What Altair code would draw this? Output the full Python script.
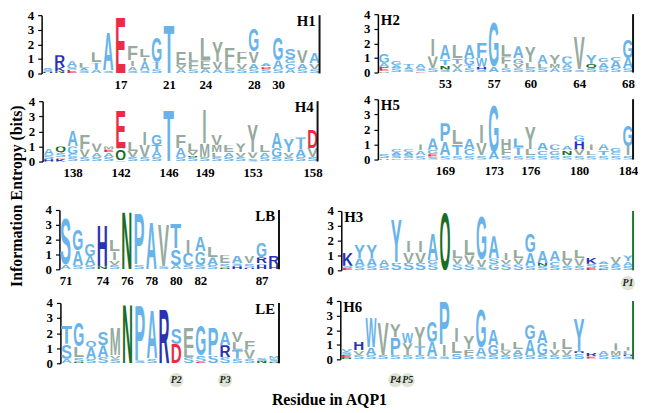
import base64
import altair as alt
import pandas as pd

# ---------------- data ----------------
# each column string lists the stacked letters bottom -> top as <letter><bits>[colour override]
H1_first = 11
H1_cols = ["H0.1 S0.15 A0.15", "N0.15 K0.3 R0.8", "E0.25 S0.2 A0.45", "S0.2 A0.2 L0.4",
           "A0.25 T0.5 L0.7", "S0.2 A2.7", "E4.0", "S0.2 A0.3 I0.4 F1.0", "S0.2 A0.6 I0.3 L0.6",
           "S0.3 T0.5 G1.7", "T3.4", "A0.3 V0.3 E0.9g", "S0.3 F0.5 L0.7", "A0.3 E0.6g L1.6",
           "A0.3 V0.5 Y1.5", "S0.3 L0.5 F1.0", "S0.3 V0.4 F0.8", "S0.3 A0.4 V0.8 G1.6",
           "S0.3 E0.1 N0.1 A0.2", "S0.3 A0.6 G1.6", "A0.3 C0.4 G0.3 S0.7", "S0.3 A0.4 V0.9",
           "S0.3 V0.4 A0.7"]
H1_ticks = [17, 21, 24, 28, 30]

H2_first = 48
H2_cols = ["N0.12 E0.25 A0.3 G0.6", "S0.3 A0.2 G0.3", "S0.2 A0.2 T0.2", "E0.1 S0.2 A0.3",
           "S0.3 V0.8 I1.2", "S0.2 N0.3 T0.4 A1.0", "A0.3 V0.3 T0.4 L0.9", "S0.3 T0.2 G0.5 A0.9",
           "S0.2 H0.2 W0.6 F1.1b", "A0.4 G3.1", "S0.3 I0.3 F0.5 L0.8", "S0.3 V0.3 G0.4 A0.8",
           "S0.3 L0.4 Y1.1", "S0.3 L0.3 A0.6", "A0.3 M0.3 Y0.6", "S0.3 A0.3 C0.5", "S0.2 V2.3",
           "S0.3 Q0.3 Y0.6b", "S0.3 A0.4 G0.3", "S0.3 A0.5 C0.3", "S0.3 A0.7 G1.3"]
H2_ticks = [53, 57, 60, 64, 68]

H4_first = 136
H4_cols = ["H0.15 S0.3 A0.4", "K0.2 E0.1 S0.3 Q0.4", "S0.3 C0.2 G0.5 A1.1", "S0.3 V0.5 F1.0",
           "S0.3 A0.3 V0.6", "S0.3 A0.3 E0.2 M0.2", "S0.1 Q0.7 A0.1 E2.6", "S0.3 V0.4 L0.6",
           "S0.3 V0.8 I0.9", "S0.3 A0.4 T0.4 G0.7", "T3.5", "S0.3 A0.6 F0.9", "S0.3 N0.1 V0.3 L0.5",
           "S0.3 M0.9 I2.3", "S0.3 L0.3 M0.5 V0.7", "S0.3 A0.3 E0.5g", "S0.3 V0.3 Y0.6",
           "S0.2 V0.4 Y1.9", "S0.3 A0.3 L0.5", "S0.3 G0.6 A1.1", "S0.3 V0.3 Y0.9b",
           "S0.3 A0.5 T0.8", "S0.3 V0.6 D1.2"]
H4_ticks = [138, 142, 146, 149, 153, 158]

H5_first = 164
H5_cols = ["H0.1 S0.3", "E0.1 S0.2 A0.2 C0.2", "E0.1 S0.2 A0.2 C0.2", "S0.3 A0.3 I0.4",
           "S0.2 E0.15 G0.3 A0.75", "S0.3 A0.9 P1.2", "S0.3 T0.7 L1.0", "S0.3 C0.4 A0.7",
           "S0.3 V0.8 I1.2", "A0.5 G3.2", "S0.3 F0.4 H0.7g", "S0.3 T0.5 L0.6b", "S0.3 L0.4 Y1.5",
           "S0.3 C0.3 A0.5", "S0.3 G0.3 C0.4", "S0.3 N0.3 A0.3", "S0.3 V0.4 H0.5 G0.4",
           "S0.3 L0.3 I0.4", "S0.3 T0.3 A0.4", "S0.3 C0.2 G0.3", "S0.3 I0.6 G1.4"]
H5_ticks = [169, 173, 176, 180, 184]

LB_first = 71
LB_cols = ["A0.3 S3.2", "S0.3 A1.0 G1.4", "S0.3 A0.6 G0.8", "N0.2 H2.8", "S0.3 V0.3 I0.6 L0.8",
           "N4.0", "S0.3 P3.5", "A3.3", "S0.2 V2.9", "A0.3 S1.1 T1.7", "S0.3 C0.8 I0.9",
           "S0.3 G0.9 A1.0", "S0.3 A0.5 L0.7", "N0.1 S0.3 E0.6g", "H0.2 S0.2 A0.5",
           "H0.1 S0.3 V0.5", "H0.3 S0.1 R0.4 G1.0", "H0.3 R0.6"]
LB_ticks = [71, 74, 76, 78, 80, 82, 87]

H3_first = 93
H3_cols = ["E0.15 S0.15 K0.9", "S0.3 A0.5 Y0.9b", "S0.3 A0.5 Y0.9b", "S0.3 A0.4", "S0.5 Y3.0b",
           "S0.5 V0.7 I0.8", "S0.5 V0.7 I0.8", "S0.4 G0.3 A1.8", "Q4.0", "S0.4 V0.4 L0.6",
           "S0.4 V0.6 L1.1", "S0.2 V0.5 G3.0", "G0.4 S0.4 A1.5", "S0.4 V0.3 I0.5",
           "S0.4 V0.4 L0.6", "S0.3 A0.9 G1.3", "S0.3 N0.2 A0.8", "S0.3 C0.3 A0.7",
           "S0.3 V0.4 L0.6", "S0.3 V0.5 L0.6", "E0.15 S0.3 K0.4", "E0.1 S0.3 A0.2",
           "S0.3 A0.2 V0.4", "S0.3 A0.3 Y0.4b"]
H3_ticks = [97, 101, 104, 108, 112]

LE_first = 187
LE_cols = ["A0.3 S1.0 T1.2", "N0.1 S0.3 L0.7 G1.6", "S0.3 A0.8 Q0.4b", "S0.4 A0.8 S0.9",
           "S0.3 V0.2 M1.9", "N4.0", "S0.2 P3.7", "S0.3 A3.3", "R3.7", "D1.3 S1.1",
           "S0.4 L0.6 E1.4g", "E0.1 S0.4 G2.0", "S0.5 P1.9", "S0.4 R0.8 A0.9",
           "S0.3 T0.6 L0.5 V0.7", "S0.3 V0.6 F0.6", "N0.15 S0.2", "N0.1 S0.2 M0.2b"]
LE_ticks = [188, 192, 195, 198]

H6_first = 208
H6_cols = ["N0.1 E0.2 S0.2 V0.2b", "S0.3 V0.3 H0.6", "S0.3 A0.5 W2.1", "S0.3 V2.3",
           "S0.3 P1.2 Y0.9", "S0.3 Y0.8 W0.7", "S0.3 T0.6 Y1.4", "S0.2 A1.0 G1.5",
           "S0.2 I0.8 P3.0", "S0.4 L0.8 I1.0", "S0.3 F0.4 Y0.9", "S0.2 A0.6 G2.7",
           "S0.3 G0.7 A1.1", "S0.3 V0.3 L0.5", "S0.3 A0.4 L0.5", "S0.3 A1.1 G1.0",
           "S0.3 G0.8 A0.9", "S0.3 V0.4 I0.5", "S0.3 V0.4 L0.7", "S0.4 H0.15 Y2.3b",
           "S0.05 E0.15 R0.25", "S0.3 A0.3", "S0.3 M0.3 I0.5", "S0.2 H0.1 L0.3 I0.3"]
H6_ticks = [210, 216, 219, 223, 227]

P_panel = ["H3", "LE", "LE", "H6", "H6"]
P_res = [116, 196, 200, 212, 213]
P_text = ["P1", "P2", "P3", "P4", "P5"]

Y_TITLE = "Information Entropy (bits)"
X_TITLE = "Residue in AQP1"

# ---------------- styling / layout ----------------
LETTER_CLASS = {"A": "b", "G": "b", "S": "b", "T": "b", "P": "b", "C": "b", "W": "b",
                "L": "g", "I": "g", "V": "g", "F": "g", "Y": "g", "M": "g",
                "E": "r", "D": "r", "H": "d", "R": "d", "K": "d", "N": "n", "Q": "n"}
CLASS_RGB = {"b": "rgb(104,180,234)", "g": "rgb(150,170,160)", "r": "rgb(234,44,70)",
             "d": "rgb(40,50,178)", "n": "rgb(24,110,40)"}
SERIF = "Liberation Serif"
BLACK_BAR = "#111111"
GREEN_BAR = "#1d7a2c"

OX, OY = 8, 8          # page margin
W, H = 637, 403        # whole drawing area (autosize none)

# page-pixel boxes of each panel's plotting area: left, right, top, bottom, label side, bar colour
LAYOUT = {
    "H1": (42, 324, 13, 72, "right", BLACK_BAR),
    "H2": (382, 641, 12, 71, "left", BLACK_BAR),
    "H4": (43, 322, 100, 161, "right", BLACK_BAR),
    "H5": (382, 641, 98, 159, "left", BLACK_BAR),
    "LB": (60, 283, 210, 270, "right", BLACK_BAR),
    "H3": (345, 641, 211, 271, "left", GREEN_BAR),
    "LE": (61, 283, 304, 365, "right", BLACK_BAR),
    "H6": (344, 641, 302, 361, "left", GREEN_BAR),
}
P_Y = {"H3": 284, "LE": 382, "H6": 382}

PANELS = [("H1", H1_first, H1_cols, H1_ticks), ("H2", H2_first, H2_cols, H2_ticks),
          ("H4", H4_first, H4_cols, H4_ticks), ("H5", H5_first, H5_cols, H5_ticks),
          ("LB", LB_first, LB_cols, LB_ticks), ("H3", H3_first, H3_cols, H3_ticks),
          ("LE", LE_first, LE_cols, LE_ticks), ("H6", H6_first, H6_cols, H6_ticks)]


def glyph_url(letter, cls):
    fill = CLASS_RGB[cls]
    common = (f"font-family='Liberation Sans, Arial, sans-serif' font-weight='bold' "
              f"font-size='138' fill='{fill}'")
    if letter == "I":
        txt = f"<text x='50' y='99' text-anchor='middle' {common}>I</text>"
    else:
        txt = (f"<text x='3' y='99' textLength='94' lengthAdjust='spacingAndGlyphs' "
               f"{common}>{letter}</text>")
    svg = ("<svg xmlns='http://www.w3.org/2000/svg' width='100' height='100' "
           "viewBox='0 0 100 100' preserveAspectRatio='none'>" + txt + "</svg>")
    return "data:image/svg+xml;base64," + base64.b64encode(svg.encode()).decode()


rows = []
for name, first, cols, _ in PANELS:
    for i, col in enumerate(cols):
        res = first + i
        base = 0.0
        for tok in col.split():
            letter, body = tok[0], tok[1:]
            cls = LETTER_CLASS[letter]
            if body[-1].isalpha():
                cls, body = body[-1], body[:-1]
            h = float(body)
            rows.append(dict(panel=name, res=res, x0=res - 0.48, x1=res + 0.48,
                             y0=base, y1=base + h, letter=letter, cls=cls))
            base += h
seg = pd.DataFrame(rows)
url_map = {(l, c): glyph_url(l, c) for l, c in set(zip(seg.letter, seg.cls))}
seg["url"] = [url_map[(l, c)] for l, c in zip(seg.letter, seg.cls)]
pmk = pd.DataFrame({"panel": P_panel, "x0": P_res, "lab": P_text})

layers = []
for name, first, cols, ticks in PANELS:
    L, R, T, B, side, bar = LAYOUT[name]
    n = len(cols)
    xs = alt.Scale(domain=[first - 0.5, first + n - 0.5], range=[L - OX, R - OX], nice=False, zero=False)
    ys = alt.Scale(domain=[0, 4], range=[B - OY, T - OY], nice=False, zero=False)
    xaxis = alt.Axis(orient="bottom", values=ticks, title=None, domain=False, ticks=False,
                     tickSize=0, grid=False, labelPadding=5, labelFont=SERIF,
                     labelFontWeight="bold", labelFontSize=13, labelColor="black",
                     labelFlush=False, labelOverlap=False, offset=(B - OY) - H)
    yaxis = alt.Axis(orient="left", values=[0, 1, 2, 3, 4], format="d", title=None, grid=False,
                     domainColor="black", domainWidth=1.5, tickColor="black", tickSize=4,
                     tickWidth=1.2, labelPadding=4, labelFont=SERIF, labelFontWeight="bold",
                     labelFontSize=13, labelColor="black", offset=-(L - OX))
    letters = alt.Chart(seg[seg.panel == name]).mark_image(aspect=False).encode(
        x=alt.X("x0:Q", scale=xs, axis=xaxis), x2="x1:Q",
        y=alt.Y("y0:Q", scale=ys, axis=yaxis), y2="y1:Q",
        url="url:N")
    parts = [letters]
    sub = pmk[pmk.panel == name]
    if len(sub):
        py = P_Y[name] - OY
        circ = alt.Chart(sub).mark_circle(size=210, color="#dfe5d6", opacity=1).encode(
            x=alt.X("x0:Q", scale=xs, axis=None), y=alt.value(py))
        ptxt = alt.Chart(sub).mark_text(font=SERIF, fontWeight="bold", fontStyle="italic",
                                        fontSize=10, color="#222222").encode(
            x=alt.X("x0:Q", scale=xs, axis=None), y=alt.value(py), text="lab:N")
        parts += [circ, ptxt]
    layers.append(alt.layer(*parts))

    # right border bar
    layers.append(alt.Chart(pd.DataFrame({"p": [name]})).mark_rule(color=bar, strokeWidth=2).encode(
        x=alt.value(R - OX - 1), y=alt.value(T - OY), y2=alt.value(B - OY)))
    # panel name
    if side == "right":
        lx, al = R - OX - 5, "right"
    else:
        lx, al = L - OX + 3, "left"
    layers.append(alt.Chart(pd.DataFrame({"p": [name]})).mark_text(
        font=SERIF, fontWeight="bold", fontSize=15, align=al, baseline="middle", color="black").encode(
        x=alt.value(lx), y=alt.value(T - OY + 6), text="p:N"))

layers.append(alt.Chart(pd.DataFrame({"t": [Y_TITLE]})).mark_text(
    font=SERIF, fontWeight="bold", fontSize=16, angle=270, align="center", baseline="middle",
    color="black").encode(x=alt.value(17 - OX), y=alt.value(196 - OY), text="t:N"))
layers.append(alt.Chart(pd.DataFrame({"t": [X_TITLE]})).mark_text(
    font=SERIF, fontWeight="bold", fontSize=16, align="center", baseline="middle",
    color="black").encode(x=alt.value(333 - OX), y=alt.value(402 - OY), text="t:N"))

chart = alt.layer(*layers).resolve_scale(x="independent", y="independent").properties(
    width=W, height=H, autosize=alt.AutoSizeParams(type="none"), padding=0
).configure_view(stroke=None)

chart.save("out.html", embed_options={"renderer": "svg", "actions": False})
